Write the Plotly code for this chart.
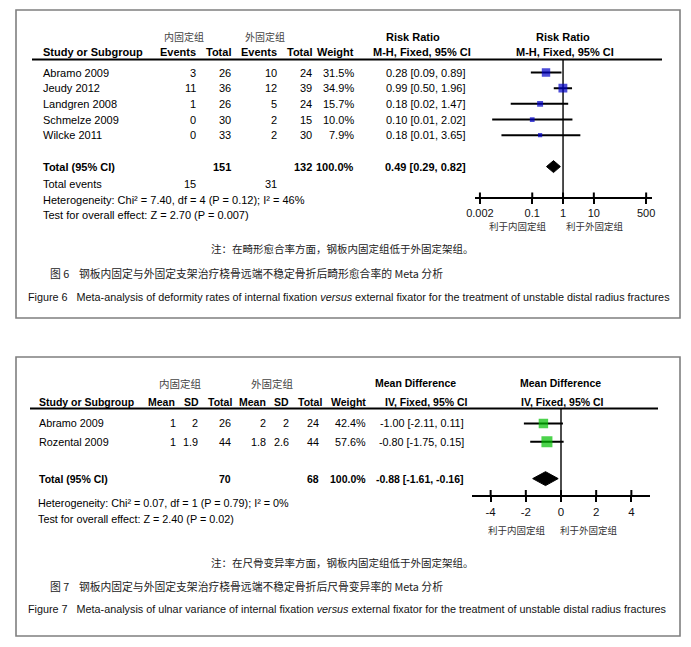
import math
import plotly.graph_objects as go

W, H = 691, 647

# ---------------- Figure 6 data (Risk Ratio) ----------------
studies6 = ["Abramo 2009", "Jeudy 2012", "Landgren 2008", "Schmelze 2009", "Wilcke 2011"]
events_int6 = [3, 11, 1, 0, 0]
total_int6 = [26, 36, 26, 30, 33]
events_ext6 = [10, 12, 5, 2, 2]
total_ext6 = [24, 39, 24, 15, 30]
weight6 = [31.5, 34.9, 15.7, 10.0, 7.9]
rr6 = [0.28, 0.99, 0.18, 0.10, 0.18]
rr_lo6 = [0.09, 0.50, 0.02, 0.005, 0.01]
rr_hi6 = [0.89, 1.96, 1.47, 2.02, 3.65]
pooled6 = [0.49, 0.29, 0.82]
totals6 = [151, 132]
total_events6 = [15, 31]
ticks6 = [0.002, 0.1, 1, 10, 500]
tick_labels6 = ["0.002", "0.1", "1", "10", "500"]

# ---------------- Figure 7 data (Mean Difference) ----------------
studies7 = ["Abramo 2009", "Rozental 2009"]
mean_int7 = [1, 1]
sd_int7 = [2, 1.9]
n_int7 = [26, 44]
mean_ext7 = [2, 1.8]
sd_ext7 = [2, 2.6]
n_ext7 = [24, 44]
weight7 = [42.4, 57.6]
md7 = [-1.00, -0.80]
md_lo7 = [-2.11, -1.75]
md_hi7 = [0.11, 0.15]
pooled7 = [-0.88, -1.61, -0.16]
totals7 = [70, 68]
ticks7 = [-4, -2, 0, 2, 4]
tick_labels7 = ["-4", "-2", "0", "2", "4"]

F1 = "Liberation Sans, Arial, sans-serif"
F2 = "Liberation Sans, Arial, sans-serif"
FC = "Noto Sans CJK SC, sans-serif"
S2 = 10.8   # panel 2 regular size
S2B = 10.5  # panel 2 bold size

annotations = []
shapes = []


def ann(x, y, text, xanchor="left", size=11, family=F1, color="#000", yref="paper"):
    yy = 1 - y / H if yref == "paper" else y
    annotations.append(dict(x=x / W, y=yy, xref="paper", yref=yref, text=text,
                            showarrow=False, xanchor=xanchor, yanchor="middle",
                            borderpad=0,
                            font=dict(size=size, family=family, color=color)))


def hline(x0, x1, y, width=2, color="#000"):
    shapes.append(dict(type="line", xref="paper", yref="paper", x0=x0 / W, x1=x1 / W,
                       y0=1 - y / H, y1=1 - y / H, line=dict(color=color, width=width)))


def box(x0, y0, x1, y1):
    shapes.append(dict(type="rect", xref="paper", yref="paper", x0=x0 / W, x1=x1 / W,
                       y0=1 - y1 / H, y1=1 - y0 / H, line=dict(color="#7f7f7f", width=1.6),
                       fillcolor="rgba(0,0,0,0)"))


fig = go.Figure()

# ================= Panel 1 =================
box(16, 10, 680, 318)
Y1_TOP, Y1_BOT = -0.83, 7.94   # row units (row 0 at first study)
ROW1 = 15.75                   # px per row

ann(184, 36, "内固定组", "center", 10, FC, "#444")
ann(265, 36, "外固定组", "center", 10, FC, "#444")
ann(413, 37, "<b>Risk Ratio</b>", "center", 11)
ann(563, 37, "<b>Risk Ratio</b>", "center", 11)
hy = 52
ann(42, hy, "<b>Study or Subgroup</b>", "left")
ann(197, hy, "<b>Events</b>", "right")
ann(232, hy, "<b>Total</b>", "right")
ann(278, hy, "<b>Events</b>", "right")
ann(313, hy, "<b>Total</b>", "right")
ann(355, hy, "<b>Weight</b>", "right")
ann(422, hy, "<b>M-H, Fixed, 95% CI</b>", "center")
ann(565, hy, "<b>M-H, Fixed, 95% CI</b>", "center")
hline(32, 662, 59.5, 2.2)

for i, s in enumerate(studies6):
    ann(42, i, s, "left", yref="y")
    ann(197, i, str(events_int6[i]), "right", yref="y")
    ann(232, i, str(total_int6[i]), "right", yref="y")
    ann(278, i, str(events_ext6[i]), "right", yref="y")
    ann(313, i, str(total_ext6[i]), "right", yref="y")
    ann(355, i, f"{weight6[i]:.1f}%", "right", yref="y")
    ann(426, i, f"{rr6[i]:.2f} [{rr_lo6[i]:.2f}, {rr_hi6[i]:.2f}]", "center", yref="y")

tot_row6 = len(studies6) + 1
ann(42, tot_row6, "<b>Total (95% CI)</b>", "left", yref="y")
ann(232, tot_row6, f"<b>{totals6[0]}</b>", "right", yref="y")
ann(313, tot_row6, f"<b>{totals6[1]}</b>", "right", yref="y")
ann(355, tot_row6, f"<b>{sum(weight6):.1f}%</b>", "right", yref="y")
ann(425, tot_row6, f"<b>{pooled6[0]:.2f} [{pooled6[1]:.2f}, {pooled6[2]:.2f}]</b>", "center", yref="y")
ann(42, 184, "Total events", "left")
ann(197, 184, str(total_events6[0]), "right")
ann(278, 184, str(total_events6[1]), "right")
ann(42, 200, "Heterogeneity: Chi² = 7.40, df = 4 (P = 0.12); I² = 46%", "left")
ann(42, 214.5, "Test for overall effect: Z = 2.70 (P = 0.007)", "left")
ann(518, 226, "利于内固定组", "center", 9.5, FC, "#333")
ann(595, 226, "利于外固定组", "center", 9.5, FC, "#333")

fig.add_trace(go.Scatter(x=[1, 1], y=[Y1_TOP, Y1_BOT], mode="lines",
                         line=dict(color="#000", width=1.4), xaxis="x", yaxis="y",
                         hoverinfo="skip"))
tx, ty = [], []
for t in ticks6:
    tx += [t, t, None]
    ty += [Y1_BOT, Y1_BOT - 4.5 / ROW1, None]
fig.add_trace(go.Scatter(x=tx, y=ty, mode="lines", line=dict(color="#000", width=2),
                         xaxis="x", yaxis="y", hoverinfo="skip"))
cx, cy = [], []
for i in range(len(studies6)):
    cx += [rr_lo6[i], rr_hi6[i], None]
    cy += [i, i, None]
fig.add_trace(go.Scatter(x=cx, y=cy, mode="lines", line=dict(color="#000", width=2),
                         xaxis="x", yaxis="y", hoverinfo="skip"))
fig.add_trace(go.Scatter(x=rr6, y=list(range(len(studies6))), mode="markers",
                         marker=dict(symbol="square", color="#0000c8",
                                     size=[1.5 * math.sqrt(w) for w in weight6],
                                     line=dict(width=0)),
                         xaxis="x", yaxis="y", hoverinfo="skip"))
dh = 6 / ROW1
fig.add_trace(go.Scatter(x=[pooled6[1], pooled6[0], pooled6[2], pooled6[0], pooled6[1]],
                         y=[tot_row6, tot_row6 - dh, tot_row6, tot_row6 + dh, tot_row6],
                         mode="lines", fill="toself", fillcolor="#000",
                         line=dict(color="#000", width=1), xaxis="x", yaxis="y",
                         hoverinfo="skip"))

ann(342, 249, "注：在畸形愈合率方面，钢板内固定组低于外固定架组。", "center", 10.5, FC, "#222")
ann(49, 273, "图 6\u00a0\u00a0\u00a0\u00a0钢板内固定与外固定支架治疗桡骨远端不稳定骨折后畸形愈合率的 Meta 分析",
    "left", 10.8, FC, "#222")
ann(27, 297, "Figure 6\u00a0\u00a0\u00a0Meta-analysis of deformity rates of internal fixation <i>versus</i> external fixator for the treatment of unstable distal radius fractures",
    "left", 10.8, F1, "#111")

# ================= Panel 2 =================
box(16, 357, 680, 636)
Y2_TOP, Y2_BOT = -0.81, 3.89
ROW2 = 18.5

ann(180, 383, "内固定组", "center", 10.5, FC, "#444")
ann(272, 383, "外固定组", "center", 10.5, FC, "#444")
ann(415, 383, "<b>Mean Difference</b>", "center", S2B, F2)
ann(560, 383, "<b>Mean Difference</b>", "center", S2B, F2)
hy2 = 402
ann(38, hy2, "<b>Study or Subgroup</b>", "left", S2B, F2)
ann(176, hy2, "<b>Mean</b>", "right", S2B, F2)
ann(200, hy2, "<b>SD</b>", "right", S2B, F2)
ann(233, hy2, "<b>Total</b>", "right", S2B, F2)
ann(267, hy2, "<b>Mean</b>", "right", S2B, F2)
ann(290, hy2, "<b>SD</b>", "right", S2B, F2)
ann(323, hy2, "<b>Total</b>", "right", S2B, F2)
ann(367, hy2, "<b>Weight</b>", "right", S2B, F2)
ann(427, hy2, "<b>IV, Fixed, 95% CI</b>", "center", S2B, F2)
ann(562, hy2, "<b>IV, Fixed, 95% CI</b>", "center", S2B, F2)
hline(30, 658, 408.5, 2.2)

for i, s in enumerate(studies7):
    ann(38, i, s, "left", S2, F2, yref="y2")
    ann(177, i, f"{mean_int7[i]:g}", "right", S2, F2, yref="y2")
    ann(199, i, f"{sd_int7[i]:g}", "right", S2, F2, yref="y2")
    ann(232, i, str(n_int7[i]), "right", S2, F2, yref="y2")
    ann(267, i, f"{mean_ext7[i]:g}", "right", S2, F2, yref="y2")
    ann(290, i, f"{sd_ext7[i]:g}", "right", S2, F2, yref="y2")
    ann(320, i, str(n_ext7[i]), "right", S2, F2, yref="y2")
    ann(367, i, f"{weight7[i]:.1f}%", "right", S2, F2, yref="y2")
    ann(422, i, f"{md7[i]:.2f} [{md_lo7[i]:.2f}, {md_hi7[i]:.2f}]", "center", S2, F2, yref="y2")

tot_row7 = len(studies7) + 1
ann(38, tot_row7, "<b>Total (95% CI)</b>", "left", S2B, F2, yref="y2")
ann(232, tot_row7, f"<b>{totals7[0]}</b>", "right", S2B, F2, yref="y2")
ann(320, tot_row7, f"<b>{totals7[1]}</b>", "right", S2B, F2, yref="y2")
ann(367, tot_row7, f"<b>{sum(weight7):.1f}%</b>", "right", S2B, F2, yref="y2")
ann(420, tot_row7, f"<b>{pooled7[0]:.2f} [{pooled7[1]:.2f}, {pooled7[2]:.2f}]</b>", "center", S2B, F2, yref="y2")
ann(37, 503, "Heterogeneity: Chi² = 0.07, df = 1 (P = 0.79); I² = 0%", "left", S2, F2)
ann(37, 519, "Test for overall effect: Z = 2.40 (P = 0.02)", "left", S2, F2)
ann(517, 530, "利于内固定组", "center", 9.5, FC, "#333")
ann(589, 530, "利于外固定组", "center", 9.5, FC, "#333")

fig.add_trace(go.Scatter(x=[0, 0], y=[Y2_TOP, Y2_BOT], mode="lines",
                         line=dict(color="#000", width=1.4), xaxis="x2", yaxis="y2",
                         hoverinfo="skip"))
tx, ty = [], []
for t in ticks7:
    tx += [t, t, None]
    ty += [Y2_BOT, Y2_BOT - 5 / ROW2, None]
fig.add_trace(go.Scatter(x=tx, y=ty, mode="lines", line=dict(color="#000", width=2),
                         xaxis="x2", yaxis="y2", hoverinfo="skip"))
cx, cy = [], []
for i in range(len(studies7)):
    cx += [md_lo7[i], md_hi7[i], None]
    cy += [i, i, None]
fig.add_trace(go.Scatter(x=cx, y=cy, mode="lines", line=dict(color="#000", width=2),
                         xaxis="x2", yaxis="y2", hoverinfo="skip"))
fig.add_trace(go.Scatter(x=md7, y=list(range(len(studies7))), mode="markers",
                         marker=dict(symbol="square", color="#00c000",
                                     size=[1.45 * math.sqrt(w) for w in weight7],
                                     line=dict(width=0)),
                         xaxis="x2", yaxis="y2", hoverinfo="skip"))
dh2 = 7 / ROW2
fig.add_trace(go.Scatter(x=[pooled7[1], pooled7[0], pooled7[2], pooled7[0], pooled7[1]],
                         y=[tot_row7, tot_row7 - dh2, tot_row7, tot_row7 + dh2, tot_row7],
                         mode="lines", fill="toself", fillcolor="#000",
                         line=dict(color="#000", width=1), xaxis="x2", yaxis="y2",
                         hoverinfo="skip"))

ann(342, 562, "注：在尺骨变异率方面，钢板内固定组低于外固定架组。", "center", 10.5, FC, "#222")
ann(49, 586, "图 7\u00a0\u00a0\u00a0\u00a0钢板内固定与外固定支架治疗桡骨远端不稳定骨折后尺骨变异率的 Meta 分析",
    "left", 10.8, FC, "#222")
ann(27, 609, "Figure 7\u00a0\u00a0\u00a0Meta-analysis of ulnar variance of internal fixation <i>versus</i> external fixator for the treatment of unstable distal radius fractures",
    "left", 10.8, F1, "#111")

# ---------------- axes ----------------
lo1 = math.log10(ticks6[0]) - 0.16
hi1 = math.log10(ticks6[-1]) + 0.19
axis_common = dict(showgrid=False, zeroline=False, showline=True, linecolor="#000",
                   linewidth=2, ticks="outside", ticklen=5, tickwidth=2, tickcolor="#000",
                   automargin=False, fixedrange=True)
fig.update_layout(
    width=W, height=H,
    margin=dict(l=0, r=0, t=0, b=0),
    paper_bgcolor="#fff", plot_bgcolor="rgba(0,0,0,0)",
    showlegend=False,
    xaxis=dict(type="log", domain=[475 / W, 652 / W], range=[lo1, hi1], anchor="y",
               tickvals=ticks6, ticktext=tick_labels6,
               tickfont=dict(size=11, family=F1, color="#111"), **axis_common),
    yaxis=dict(domain=[1 - 197 / H, 1 - 59.5 / H], range=[Y1_BOT, Y1_TOP], visible=False,
               anchor="x", fixedrange=True),
    xaxis2=dict(domain=[472 / W, 650 / W], range=[-5.06, 5.06], anchor="y2",
                tickvals=ticks7, ticktext=tick_labels7,
                tickfont=dict(size=11.5, family=F2, color="#111"), **axis_common),
    yaxis2=dict(domain=[1 - 495 / H, 1 - 408.5 / H], range=[Y2_BOT, Y2_TOP], visible=False,
                anchor="x2", fixedrange=True),
    annotations=annotations,
    shapes=shapes,
)

fig.write_html("out.html", config={"displayModeBar": False},
               post_script="document.body.style.margin='0';document.body.style.padding='0';")
